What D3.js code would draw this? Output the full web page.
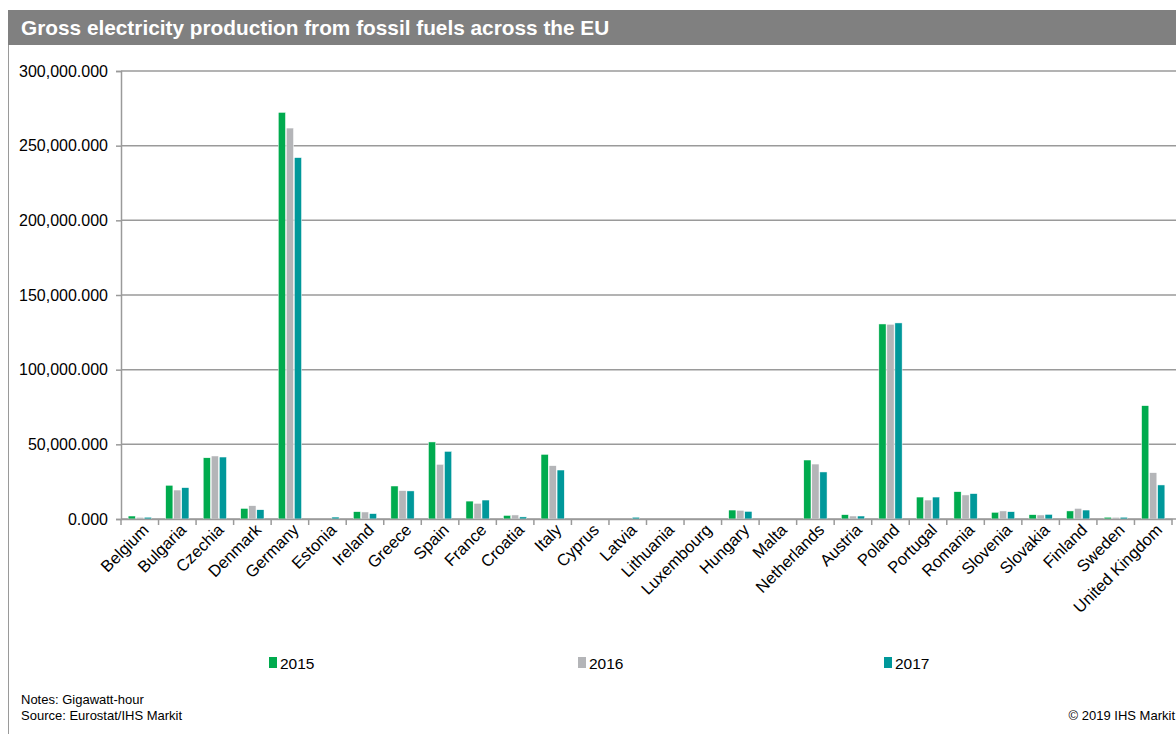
<!DOCTYPE html>
<html>
<head>
<meta charset="utf-8">
<script src="https://cdn.jsdelivr.net/npm/d3@7"></script>
<style>
  body { margin: 0; background: #fff; }
  svg { display: block; font-family: Arial, "Liberation Sans", sans-serif; }
</style>
</head>
<body>
<svg id="chart" width="1176" height="734"></svg>
<script>
// data (gigawatt-hour)
const countries = ["Belgium", "Bulgaria", "Czechia", "Denmark", "Germany", "Estonia", "Ireland", "Greece",
  "Spain", "France", "Croatia", "Italy", "Cyprus", "Latvia", "Lithuania", "Luxembourg", "Hungary", "Malta",
  "Netherlands", "Austria", "Poland", "Portugal", "Romania", "Slovenia", "Slovakia", "Finland", "Sweden", "United Kingdom"]
const years = ["2015", "2016", "2017"]
const values2015 = [2000, 22600, 41000, 7100, 272300, 0, 4900, 22100,
  51600, 12000, 2400, 43300, 0, 0, 0, 0, 6000, 0,
  39500, 2900, 130600, 14700, 18300, 4500, 2900, 5400, 1200, 75900]
const values2016 = [1100, 19400, 42200, 8900, 261800, 0, 4700, 19000,
  36600, 10500, 2700, 35700, 0, 0, 0, 0, 5800, 0,
  36800, 2000, 130400, 12700, 16100, 5400, 2700, 7100, 1100, 31000]
const values2017 = [1200, 21000, 41500, 6200, 242000, 1300, 3600, 18800,
  45300, 12700, 1400, 32800, 0, 1200, 0, 0, 5100, 0,
  31500, 2000, 131300, 14700, 17000, 4900, 3100, 6000, 1200, 22800]
const yTicks = [0, 50000, 100000, 150000, 200000, 250000, 300000]
const colors = ["#00AB4E", "#B4B5B8", "#00989A"]

const series = [values2015, values2016, values2017]
const rows = countries.map((c, i) => ({ country: c, vals: years.map((y, j) => ({ year: y, v: series[j][i] })) }))

const svg = d3.select('#chart')

// header band and frame
svg.append('rect').attr('x', 8).attr('y', 10).attr('width', 1168).attr('height', 35).attr('fill', '#808080')
svg.append('text').attr('x', 21).attr('y', 35).attr('fill', '#fff')
  .attr('font-size', 20.8).attr('font-weight', 'bold')
  .text('Gross electricity production from fossil fuels across the EU')
svg.append('line').attr('x1', 8.5).attr('x2', 8.5).attr('y1', 45).attr('y2', 734)
  .attr('stroke', '#9a9a9a').attr('stroke-width', 1)

const plotLeft = 121, plotRight = 1172, plotTop = 71, plotBottom = 519

const x0 = d3.scaleBand().domain(countries).range([plotLeft, plotRight]).paddingInner(0.38).paddingOuter(0.19)
const x1 = d3.scaleBand().domain(years).range([0, x0.bandwidth()]).paddingInner(0.1)
const y = d3.scaleLinear().domain([0, 300000]).range([plotBottom, plotTop])
const color = d3.scaleOrdinal().domain(years).range(colors)

// gridlines
svg.append('g').selectAll('line').data(yTicks).enter().append('line')
  .attr('x1', plotLeft).attr('x2', 1176)
  .attr('y1', d => y(d)).attr('y2', d => y(d))
  .attr('stroke', '#9a9a9a').attr('stroke-width', 1.5)

// y axis
const fmt = d3.format(',.3f')
const yAxis = svg.append('g').attr('transform', `translate(${plotLeft},0)`)
  .call(d3.axisLeft(y).tickValues(yTicks).tickSize(5).tickPadding(8).tickFormat(fmt))
yAxis.select('.domain').attr('stroke', '#9a9a9a').attr('stroke-width', 1.5)
yAxis.selectAll('.tick line').attr('stroke', '#9a9a9a').attr('stroke-width', 1.5)
yAxis.selectAll('.tick text').attr('font-size', 16).attr('fill', '#000')
  .attr('font-family', 'Arial, "Liberation Sans", sans-serif')

// bars
const groups = svg.append('g').selectAll('g').data(rows).enter().append('g')
  .attr('transform', d => `translate(${x0(d.country)},0)`)
groups.selectAll('rect').data(d => d.vals).enter().append('rect')
  .attr('x', d => x1(d.year))
  .attr('y', d => y(d.v))
  .attr('width', x1.bandwidth())
  .attr('height', d => plotBottom - y(d.v))
  .attr('fill', d => color(d.year))
  .attr('stroke', '#fff').attr('stroke-width', 0.5)

// x axis
const xAxis = svg.append('g').attr('transform', `translate(0,${plotBottom})`)
  .call(d3.axisBottom(x0).tickSize(0).tickFormat(''))
xAxis.select('.domain').attr('stroke', '#9a9a9a').attr('stroke-width', 1.5)
const step = x0.step()
const edges = d3.range(countries.length + 1).map(i => plotLeft + i * step)
xAxis.append('g').selectAll('line').data(edges).enter().append('line')
  .attr('x1', d => d).attr('x2', d => d).attr('y1', 0).attr('y2', 6)
  .attr('stroke', '#9a9a9a').attr('stroke-width', 1.5)

svg.append('g').selectAll('text').data(countries).enter().append('text')
  .attr('transform', d => `translate(${x0(d) + x0.bandwidth() / 2 + 10},${plotBottom + 12}) rotate(-45)`)
  .attr('text-anchor', 'end')
  .attr('font-size', 16.5)
  .attr('fill', '#000')
  .text(d => d)

// legend
const legendX = [269, 578, 884]
const legend = svg.append('g').selectAll('g').data(years).enter().append('g')
  .attr('transform', (d, i) => `translate(${legendX[i]},657)`)
legend.append('rect').attr('width', 8).attr('height', 11).attr('fill', d => color(d))
legend.append('text').attr('x', 11).attr('y', 12).attr('font-size', 15.5).attr('fill', '#000').text(d => d)

// notes
svg.append('text').attr('x', 21).attr('y', 704).attr('font-size', 13).text('Notes: Gigawatt-hour')
svg.append('text').attr('x', 21).attr('y', 720).attr('font-size', 13).text('Source: Eurostat/IHS Markit')
svg.append('text').attr('x', 1175).attr('y', 720).attr('font-size', 13).attr('text-anchor', 'end').text('© 2019 IHS Markit')
</script>
</body>
</html>
